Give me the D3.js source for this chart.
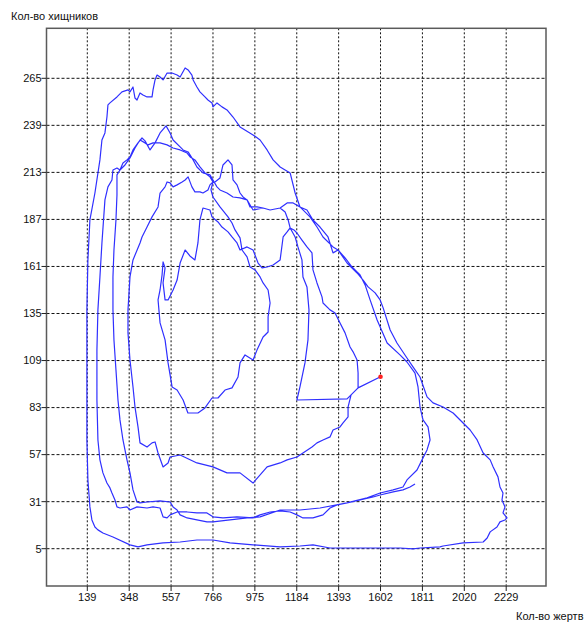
<!DOCTYPE html>
<html><head><meta charset="utf-8">
<script src="https://cdn.jsdelivr.net/npm/d3@7"></script>
<style>body{margin:0;background:#fff}svg{display:block}text{font-family:"Liberation Sans",Arial,sans-serif;font-size:11px;fill:#111}</style>
</head><body><svg id="c" width="584" height="626"></svg>
<script>
// tick labels
const xTicks = [139,348,557,766,975,1184,1393,1602,1811,2020,2229];
const yTicks = [5,31,57,83,109,135,161,187,213,239,265];
const xTitle = "Кол-во жертв";
const yTitle = "Кол-во хищников";

// trajectory segments: [prey, predators]
const tail = [[1774,40.8],[1749,39.1],[1714,37.5],[1665,36.4],[1600,34.7],[1565,33.6],[1500,31.9],[1435,30.3],[1385,29.2],[1350,27.5],[1315,23.7],[1265,22.0],[1215,22.0],[1185,23.7],[1151,25.3],[1101,25.9]];
const loopA = [[1051,25.3],[1001,23.7],[966,22.0],[886,22.6],[816,22.0],[766,22.6],[736,24.8],[686,24.8],[637,25.3],[587,25.3],[552,23.7],[537,22.0],[517,22.6],[502,27.5],[467,28.1],[437,27.5],[387,28.1],[352,26.4],[337,28.1],[302,27.5],[287,28.1],[277,31.9],[262,35.8],[252,38.6],[237,41.3],[217,46.9],[202,54.1],[192,65.1],
 [187,87.2],[187,114.9],[192,137.0],[202,155.2],[212,174.0],[227,197.8],[242,205.0],[262,208.8],[267,214.3],[287,215.4],[302,214.3],[317,218.2],[337,219.9],[352,221.5],[367,225.4],[392,229.3],[412,232.0],[427,230.4],[452,225.4],[477,229.3],[502,234.8],[532,238.7],
 [552,234.8],[567,230.9],[602,227.1],[617,225.4],[642,224.3],[667,219.9],[686,216.0],[716,212.7],[751,211.6],[766,208.8],[786,205.0],[801,203.3],[836,201.6],[866,199.4],[901,198.9],[936,197.8],[966,192.2],
 [1016,193.3],[1051,192.2],[1101,193.3],[1136,196.1],[1166,196.1],[1200,193.9],[1235,192.2],[1265,186.7],[1300,182.8],[1340,177.3],[1365,168.5],[1390,170.1]];
const loopOuter = [[1435,162.9],[1485,157.4],[1515,153.5],[1540,149.7],[1575,146.4],[1600,142.5],[1615,138.1],[1650,125.9],[1684,118.7],[1734,110.4],[1764,105.5],[1799,99.9],[1834,88.9],[1864,85.6],[1914,83.3],[1964,80.0],[2014,74.5],[2049,70.6],[2084,65.1],[2114,57.9],[2149,54.1],[2164,50.2],[2188,44.7],[2198,39.1],[2213,35.8],[2208,31.9],[2223,28.1],[2213,24.8],[2233,22.0],[2223,20.9],[2198,19.8],[2183,17.0],[2149,14.3],[2134,10.9],[2114,8.7],[2014,8.2],[1914,6.5],[1899,6.0],[1799,5.4],[1764,4.9],[1699,5.4],[1350,5.4],[1265,7.1],[1200,6.5],[1101,6.0],[966,7.1],[851,8.2],[766,9.8],[686,9.8],[602,8.7],[517,8.2],[437,7.1],[392,6.0],[352,7.1],[267,11.5],[217,13.7],[192,15.4],[177,17.0],[162,20.9],[152,28.1],[142,43.0],[137,65.1],[137,87.2],[137,114.9],[137,137.0],[142,164.6],[152,186.7],[177,201.6],[202,219.9],[212,230.9],[227,234.8],[237,243.6],[242,250.3],[252,251.4],[287,254.7],[312,257.5],[342,258.6],[352,257.5],[367,260.2],[377,254.1],[387,253.0],[402,256.9],[417,255.8],[437,254.7],[462,254.7],[467,258.6],[477,264.1],[487,266.8],[502,265.7],[517,264.1],[537,267.9],[562,267.9],[587,266.8],[602,265.7],[627,270.7],[642,269.6],[661,266.8],[667,264.1],[686,260.2],[701,257.5],[726,254.7],[741,253.0],[761,251.4],[766,249.2],[786,251.4],[811,249.2],[836,247.5],[866,243.6],[901,238.1],[966,233.7],[1001,230.9],[1036,225.4],[1066,219.9],[1101,216.0],[1151,212.7],[1176,201.6],[1200,193.9],[1250,188.4],[1285,182.8],[1315,177.3],[1365,171.8],[1390,170.1]];
const loopB = [[1425,165.7],[1460,160.7],[1500,156.3],[1525,150.8],[1550,142.5],[1585,131.4],[1635,118.7],[1699,112.1],[1734,108.2],[1774,102.1],[1789,94.4],[1799,83.3],[1814,76.2],[1839,72.3],[1849,65.1],[1834,59.6],[1809,54.1],[1784,48.5],[1734,43.0],[1714,39.1],[1665,37.5],[1600,35.8],[1535,33.1],[1435,30.3],[1300,27.5],[1200,26.4],[1101,26.4],
 [1001,22.6],[936,22.0],[851,20.9],[766,19.8],[736,19.8],[686,20.9],[637,22.0],[602,23.7],[587,26.4],[567,28.1],[552,30.8],[502,31.4],[437,30.8],[402,30.3],[387,30.8],[367,37.5],[352,46.9],[337,54.1],[317,65.1],
 [302,76.2],[292,87.2],[282,103.8],[272,120.4],[267,137.0],[267,155.2],[272,170.1],[282,186.7],[287,200.5],[287,211.6],[302,214.3],[327,217.1],[352,221.0],[377,226.5],[402,230.9],[427,229.3],
 [442,228.2],[467,229.3],[502,229.3],[537,228.2],[567,226.5],[602,225.4],[637,223.7],[652,221.5],[676,219.9],[701,216.0],[726,212.7],[751,210.5],[766,207.7],
 [756,203.3],[766,199.4],[801,193.9],[841,188.4],[861,185.0],[876,181.2],[901,176.8],[911,170.1],[936,166.3],[951,160.7],[976,159.1]];
const loopInner = [[1001,155.2],[1016,151.9],[1041,148.0],[1051,140.8],[1041,133.1],[1041,124.8],[1016,122.0],[986,114.9],[966,109.3],[926,112.1],[901,107.7],[891,99.9],[861,93.9],[826,92.7],[791,88.3],[761,88.3],[726,82.8],[691,80.0],[641,80.0],[617,87.2],[587,92.7],[562,94.4],[542,107.7],[527,120.4],[502,129.8],[492,142.5],
 [502,148.0],[512,156.3],[517,163.5],[527,160.2],[517,151.9],[527,142.5],[542,142.5],[567,148.0],[587,153.5],[602,162.9],[627,170.1],[651,166.8],[676,164.6],[691,174.0],[701,186.7],[716,193.3],[751,192.2],[761,188.4],[791,185.6],[811,182.8],[841,180.1],[861,177.3],[886,174.0],[901,170.1],[936,171.8],[966,170.1],[991,162.9],[1011,160.2],[1036,160.7],[1066,161.8],[1101,164.6],[1116,177.3],[1136,180.1],[1151,182.3]];
const loopC = [[1170,181.2],[1185,179.5],[1210,175.6],[1235,171.8],[1260,168.5],[1265,159.1],[1285,151.9],[1310,144.2],[1315,140.8],[1350,137.0],[1375,135.3],[1400,129.8],[1425,124.3],[1450,116.5],[1465,113.8],[1485,109.3],[1490,102.1],[1490,93.9],[1455,90.0],
 [1440,83.3],[1440,77.8],[1415,74.5],[1400,72.3],[1365,70.6],[1350,66.8],[1315,65.1],[1285,63.5],[1260,61.2],[1215,57.9],[1185,55.7],[1136,54.1],[1101,52.4],[1036,50.2],[966,41.3],[901,46.9],[836,46.9],[766,50.2],[686,52.4],[602,56.8],[552,55.7],[542,52.4],[517,50.2],[492,57.9],[477,64.0],[462,63.5],[437,61.2],[402,63.5],
 [392,72.3],[377,83.3],[367,94.4],[352,109.3],[342,124.3],[342,137.0],[352,155.2],[367,164.6],[402,174.0],[412,177.3],[437,182.8],[462,188.4],[492,193.9],[502,201.6],[527,205.0],[537,207.7],[552,207.2],[567,205.0],[587,206.1],[612,207.7],[627,208.8],[642,210.5],[661,205.0],[676,202.2],[701,202.2],[716,201.6],[741,203.3],[751,206.1],[761,207.2],[776,207.7],[801,209.9],
 [816,217.1],[841,219.9],[861,217.1],[866,208.8],[886,206.1],[901,201.6],[916,199.4],[936,197.8],[951,193.9],[986,193.9],[1016,193.3],[1051,192.2],[1101,193.3],[1126,191.1],[1141,186.7],[1151,182.3]];
const lastLeg = [[1176,177.3],[1190,171.8],[1210,164.6],[1215,155.2],[1235,149.7],[1245,137.0],[1240,120.4],[1225,107.7],[1200,94.4],[1185,87.2],[1435,87.8],[1455,90.0],[1490,93.9],[1602,100]];

const trajectory = [].concat(tail, loopA, loopOuter, loopB, loopInner, loopC, lastLeg);
const current = lastLeg[lastLeg.length-1];

const svg = d3.select("#c");
const x = d3.scaleLinear().domain([139,2229]).range([87.3,506.2]);
const y = d3.scaleLinear().domain([5,265]).range([548.7,78.3]);
const L = 46.5, R = 546, T = 28.3, B = 586;

// grid
svg.append("g").selectAll("line").data(yTicks).join("line")
  .attr("x1",L).attr("x2",R).attr("y1",d=>y(d)).attr("y2",d=>y(d))
  .attr("stroke","#111").attr("stroke-width",1).attr("stroke-dasharray","3,2");
svg.append("g").selectAll("line").data(xTicks).join("line")
  .attr("y1",T).attr("y2",B).attr("x1",d=>x(d)).attr("x2",d=>x(d))
  .attr("stroke","#111").attr("stroke-width",1).attr("stroke-dasharray","2,2");

// trajectory
svg.append("path").datum(trajectory)
  .attr("d", d3.line().x(d=>x(d[0])).y(d=>y(d[1])))
  .attr("fill","none").attr("stroke","#2f2fff").attr("stroke-width",1.2).attr("stroke-linejoin","round");

svg.append("circle").attr("cx",x(current[0])).attr("cy",y(current[1])).attr("r",2.3).attr("fill","#ff2020");

// frame
svg.append("rect").attr("x",L).attr("y",T).attr("width",R-L).attr("height",B-T)
  .attr("fill","none").attr("stroke","#5a5a5a").attr("stroke-width",1.5);

// ticks + labels
svg.append("g").selectAll("line").data(yTicks).join("line")
  .attr("x1",L-5).attr("x2",L).attr("y1",d=>y(d)).attr("y2",d=>y(d)).attr("stroke","#222");
svg.append("g").selectAll("text").data(yTicks).join("text")
  .attr("x",L-5).attr("y",d=>y(d)).attr("dy","0.35em").attr("text-anchor","end").text(d=>d);
svg.append("g").selectAll("line").data(xTicks).join("line")
  .attr("y1",B).attr("y2",B+5).attr("x1",d=>x(d)).attr("x2",d=>x(d)).attr("stroke","#222");
svg.append("g").selectAll("text").data(xTicks).join("text")
  .attr("x",d=>x(d)).attr("y",601).attr("text-anchor","middle").text(d=>d);

svg.append("text").attr("x",11).attr("y",20).text(yTitle);
svg.append("text").attr("x",516).attr("y",620).text(xTitle);
</script></body></html>
